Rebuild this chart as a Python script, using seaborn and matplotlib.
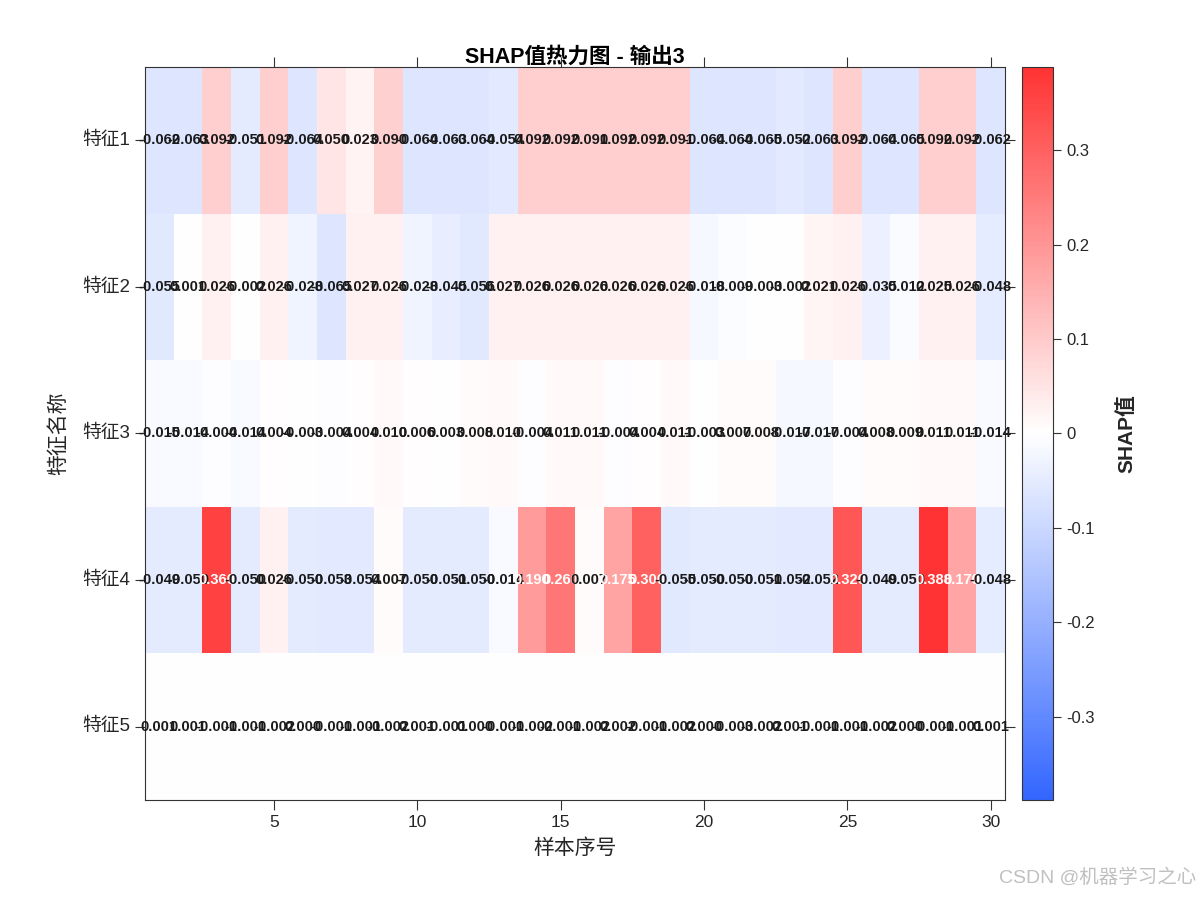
import numpy as np
import pandas as pd
import matplotlib
matplotlib.use("Agg")
import matplotlib.pyplot as plt
from matplotlib.colors import LinearSegmentedColormap
import seaborn as sns

# SHAP values (rows = features, columns = samples 1..30)
feature_names = ["特征1", "特征2", "特征3", "特征4", "特征5"]
feat1 = [-0.062, -0.063, 0.092, -0.051, 0.092, -0.064, 0.050, 0.023, 0.090, -0.064,
         -0.063, -0.064, -0.054, 0.092, 0.092, 0.091, 0.092, 0.092, 0.091, -0.064,
         -0.064, -0.065, -0.052, -0.063, 0.092, -0.064, -0.065, 0.092, 0.092, -0.062]
feat2 = [-0.055, 0.001, 0.026, -0.002, 0.026, -0.028, -0.065, 0.027, 0.026, -0.028,
         -0.045, -0.056, 0.027, 0.026, 0.026, 0.026, 0.026, 0.026, 0.026, -0.018,
         -0.009, -0.003, -0.002, 0.021, 0.026, -0.035, -0.012, 0.025, 0.026, -0.048]
feat3 = [-0.015, -0.014, -0.004, -0.014, 0.004, -0.003, -0.004, 0.004, 0.010, 0.006,
         0.003, 0.008, 0.010, -0.004, 0.011, 0.011, -0.004, 0.004, 0.011, -0.003,
         0.007, 0.008, -0.017, -0.017, -0.004, 0.008, 0.009, 0.011, 0.011, -0.014]
feat4 = [-0.049, -0.050, 0.360, -0.050, 0.026, -0.050, -0.053, -0.054, 0.007, -0.050,
         -0.051, -0.050, -0.014, 0.190, 0.260, 0.007, 0.175, 0.300, -0.055, -0.050,
         -0.050, -0.051, -0.052, -0.052, 0.320, -0.049, -0.050, 0.388, 0.170, -0.048]
feat5 = [0.001, 0.001, -0.001, -0.001, -0.002, 0.000, -0.001, -0.001, -0.002, 0.001,
         -0.001, 0.000, -0.001, -0.002, -0.001, -0.002, 0.002, -0.001, -0.002, 0.000,
         -0.003, -0.002, 0.001, -0.001, -0.001, -0.002, 0.000, -0.001, -0.001, 0.001]
samples = list(range(1, 31))
xtick_labels = [5, 10, 15, 20, 25, 30]
cbar_ticks = [-0.3, -0.2, -0.1, 0, 0.1, 0.2, 0.3]

df = pd.DataFrame([feat1, feat2, feat3, feat4, feat5], index=feature_names, columns=samples)
vmax = np.abs(df.values).max()

sns.set_theme(style="white")
plt.rcParams["font.family"] = ["Liberation Sans", "Noto Sans CJK SC", "DejaVu Sans"]
plt.rcParams["axes.unicode_minus"] = False

cmap = LinearSegmentedColormap.from_list("bwr_soft", ["#3366ff", "#ffffff", "#ff3333"])

fig = plt.figure(figsize=(12, 9), dpi=100)
ax = fig.add_axes([0.1208, 0.1111, 0.7167, 0.8145])
cax = fig.add_axes([0.8517, 0.1111, 0.0258, 0.8145])

sns.heatmap(df, ax=ax, cbar_ax=cax, cmap=cmap, vmin=-vmax, vmax=vmax,
            annot=True, fmt=".3f", annot_kws={"fontsize": 10.5, "fontweight": "bold"},
            cbar_kws={"ticks": cbar_ticks})

# text colour: white on strong cells
for txt, v in zip(ax.texts, df.values.ravel()):
    txt.set_color("white" if abs(v) > 0.15 else "#1a1a1a")

ax.set_xticks([s - 0.5 for s in xtick_labels])
ax.set_xticklabels([str(s) for s in xtick_labels], rotation=0, fontsize=12.5)
ax.set_yticks(np.arange(len(feature_names)) + 0.5)
ax.set_yticklabels(feature_names, rotation=0, fontsize=13.5)
ax.tick_params(axis="both", direction="out", length=7, width=0.8, color="#333333",
               bottom=True, top=True, left=True, right=True,
               labeltop=False, labelright=False, labelcolor="#262626")
for sp in ax.spines.values():
    sp.set_visible(True)
    sp.set_color("#333333")
    sp.set_linewidth(0.8)

ax.set_title("SHAP值热力图 - 输出3", fontsize=15.5, fontweight="bold", pad=3, color="black")
ax.set_xlabel("样本序号", fontsize=15, labelpad=6)
ax.set_ylabel("特征名称", fontsize=15, labelpad=10)

cbar = ax.collections[0].colorbar
cbar.set_ticks(cbar_ticks)
cbar.set_ticklabels(["-0.3", "-0.2", "-0.1", "0", "0.1", "0.2", "0.3"])
cbar.ax.tick_params(direction="out", length=6, width=0.8, labelsize=12, color="#333333",
                    labelcolor="#262626")
cbar.outline.set_visible(True)
cbar.outline.set_edgecolor("#333333")
cbar.outline.set_linewidth(0.8)
cbar.set_label("SHAP值", fontsize=15, fontweight="bold", labelpad=16)

fig.text(0.997, 0.015, "CSDN @机器学习之心", ha="right", va="bottom",
         fontsize=14, color="#c0c0c0")

fig.savefig("out.png", dpi=100)
